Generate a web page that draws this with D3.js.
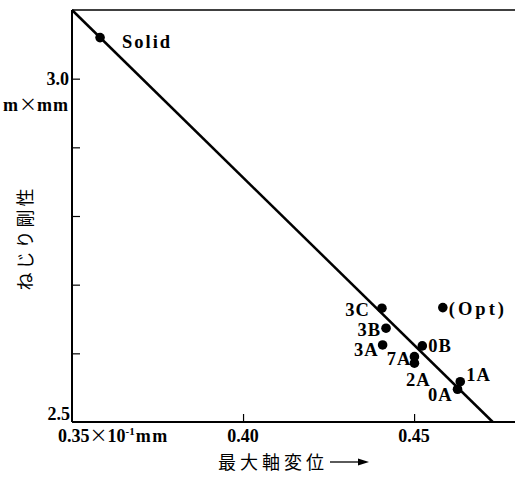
<!DOCTYPE html>
<html><head><meta charset="utf-8">
<script src="https://cdn.jsdelivr.net/npm/d3@7"></script>
<style>body{margin:0;background:#fff}svg{display:block}</style>
</head><body>
<svg id="c" width="515" height="480"></svg>
<script>
const labels = ["Solid","3C","(Opt)","3B","3A","0B","7A","2A","1A","0A"];
const xValues = [0.3582,0.4406,0.4584,0.4418,0.4408,0.4524,0.4501,0.4501,0.4635,0.4627];
const yValues = [3.0598,2.6657,2.6666,2.6366,2.6122,2.6108,2.5952,2.5856,2.5587,2.5477];
const lineX = [0.35, 0.473];
const lineY = [3.1, 2.5];
const xTicks = [0.40, 0.45];
const xTickLabels = ["0.40","0.45"];
const yMinorTicks = [2.6,2.7,2.8,2.9,3.0];

// label placement (px offsets from point, anchor, letter-spacing)
const labelPlace = {
  "Solid":[22,10,"start",2], "3C":[-12,8,"end",1], "(Opt)":[6,7,"start",3], "3B":[-5,8,"end",1],
  "3A":[-4,11,"end",1], "0B":[6,6,"start",1], "7A":[-3,8,"end",1], "2A":[4,23,"middle",1],
  "1A":[6,-1,"start",1], "0A":[-5,12,"end",1]
};

const svg = d3.select("#c");
const L=72, R=515, T=10, B=422;
const x = d3.scaleLinear().domain([0.35,0.4795]).range([L,R]);
const y = d3.scaleLinear().domain([2.5,3.1]).range([B,T]);
const serif = "'Liberation Serif','Times New Roman',serif";
const cjk = "'Noto Sans CJK JP',sans-serif";

// frame
svg.append("line").attr("x1",L).attr("x2",R).attr("y1",T).attr("y2",T).attr("stroke","#000").attr("stroke-width",1.6);
svg.append("line").attr("x1",L).attr("x2",R).attr("y1",B).attr("y2",B).attr("stroke","#000").attr("stroke-width",2);
svg.append("line").attr("x1",L).attr("x2",L).attr("y1",T).attr("y2",B).attr("stroke","#000").attr("stroke-width",2);

// x ticks (inward)
const xAxis = d3.axisTop(x).tickValues(xTicks).tickSize(8).tickFormat("");
const gx = svg.append("g").attr("transform",`translate(0,${B})`).call(xAxis);
gx.select(".domain").remove();
gx.selectAll("line").attr("stroke","#000").attr("stroke-width",1.2);
svg.selectAll(".xl").data(xTicks).enter().append("text")
  .attr("x",d=>x(d)).attr("y",B+20).attr("text-anchor","middle")
  .attr("font-family",serif).attr("font-size",18).attr("font-weight","bold")
  .text((d,i)=>xTickLabels[i]);
svg.append("text").attr("x",58).attr("y",B+20).attr("font-family",serif).attr("font-size",18).attr("font-weight","bold")
  .html(`0.35<tspan font-family="${cjk}" font-weight="normal" font-size="18">×</tspan><tspan>10</tspan><tspan dy="-7" font-size="11">-1</tspan><tspan dy="7" dx="1" letter-spacing="1.5">mm</tspan>`);

// y ticks (inward)
const yAxis = d3.axisRight(y).tickValues(yMinorTicks).tickSize(8).tickFormat("");
const gy = svg.append("g").attr("transform",`translate(${L},0)`).call(yAxis);
gy.select(".domain").remove();
gy.selectAll("line").attr("stroke","#000").attr("stroke-width",1.2);
svg.append("text").attr("x",69).attr("y",y(3.0)+6).attr("text-anchor","end")
  .attr("font-family",serif).attr("font-size",18).attr("font-weight","bold").text("3.0");
svg.append("text").attr("x",69).attr("y",y(3.0)+32).attr("text-anchor","end")
  .attr("font-family",serif).attr("font-size",18).attr("font-weight","bold").attr("letter-spacing",1)
  .html(`m<tspan font-family="${cjk}" font-weight="normal" font-size="18" letter-spacing="0">×</tspan>mm`);
svg.append("text").attr("x",70).attr("y",B-2).attr("text-anchor","end")
  .attr("font-family",serif).attr("font-size",18).attr("font-weight","bold").text("2.5");

// regression line
svg.append("line").attr("x1",x(lineX[0])).attr("y1",y(lineY[0])).attr("x2",x(lineX[1])).attr("y2",y(lineY[1]))
  .attr("stroke","#000").attr("stroke-width",2.5);

// points
const pts = labels.map((l,i)=>({l, x:xValues[i], y:yValues[i]}));
svg.selectAll("circle.p").data(pts).enter().append("circle")
  .attr("cx",d=>x(d.x)).attr("cy",d=>y(d.y)).attr("r",4.8).attr("fill","#000");
svg.selectAll("text.pl").data(pts).enter().append("text")
  .attr("x",d=>x(d.x)+labelPlace[d.l][0]).attr("y",d=>y(d.y)+labelPlace[d.l][1])
  .attr("text-anchor",d=>labelPlace[d.l][2])
  .attr("font-family",serif).attr("font-size",18.5).attr("font-weight","bold")
  .attr("letter-spacing",d=>labelPlace[d.l][3])
  .text(d=>d.l);

// axis titles
svg.append("text").attr("x",218).attr("y",469).attr("font-family",cjk).attr("font-size",18)
  .attr("letter-spacing",4).text("最大軸変位");
svg.append("line").attr("x1",330).attr("x2",362).attr("y1",462).attr("y2",462).attr("stroke","#000").attr("stroke-width",1.3);
svg.append("path").attr("d","M369,462 L358,458.5 L358,465.5 Z").attr("fill","#000");

svg.append("text").attr("transform","translate(32,238) rotate(-90)").attr("text-anchor","middle")
  .attr("font-family",cjk).attr("font-size",18).attr("letter-spacing",3).text("ねじり剛性");
</script>
</body></html>
